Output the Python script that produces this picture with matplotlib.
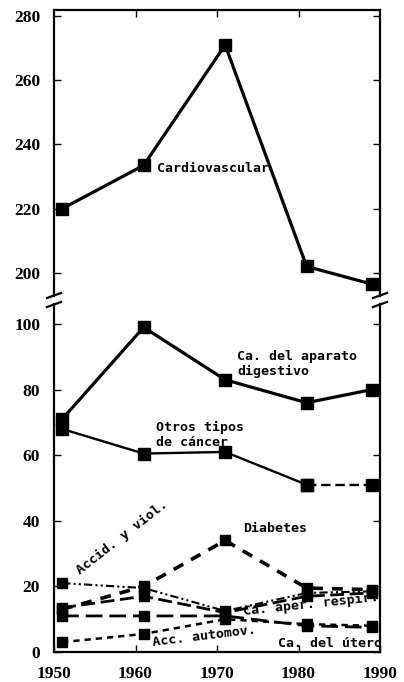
import matplotlib
matplotlib.use("Agg")
import matplotlib.pyplot as plt
from matplotlib.lines import Line2D

# ---------------- data ----------------
years = [1951, 1961, 1971, 1981, 1989]
cardiovascular = [220, 233.5, 271, 202, 196.5]
ca_digestivo = [71, 99, 83, 76, 80]
otros_cancer = [68, 60.5, 61, 51, 51]
accid_viol = [21, 19.5, 12.5, 18, 18.5]
diabetes = [13, 20, 34, 19.5, 19]
ca_respir = [13.5, 17, 12, 17, 18]
ca_utero = [11, 11, 11, 8, 7.5]
acc_automov = [3, 5.5, 10, 8.5, 8]

yticks_top = [200, 220, 240, 260, 280]
yticks_bot = [0, 20, 40, 60, 80, 100]
xticks = [1950, 1960, 1970, 1980, 1990]

W, H = 404, 682
fig = plt.figure(figsize=(W / 100, H / 100), dpi=100)

def fx(px):
    return px / W

def fy(py):
    return 1 - py / H

left, right = 54, 380
ax_top = fig.add_axes([fx(left), fy(296), (right - left) / W, (296 - 10) / H])
ax_bot = fig.add_axes([fx(left), fy(652), (right - left) / W, (652 - 304) / H])

tick_font = dict(family=["Liberation Serif", "DejaVu Serif"], weight="bold", size=12.5)
ann_font = dict(family=["DejaVu Sans Mono"], weight="bold", size=9.5)

mk = dict(marker="s", color="black", markerfacecolor="black", markeredgecolor="black")

# ---- top panel ----
ax_top.plot(years, cardiovascular, linestyle="-", lw=2.3, markersize=8, **mk)
ax_top.set_xlim(1950, 1990)
ax_top.set_ylim(192.8, 281.9)
ax_top.set_yticks(yticks_top)
ax_top.set_xticks([1960, 1970, 1980])
ax_top.spines["bottom"].set_visible(False)
ax_top.tick_params(axis="both", direction="in", length=5, width=1,
                   left=True, right=True, top=True, bottom=False,
                   labelbottom=False, labelleft=True, pad=10)
fp = matplotlib.font_manager.FontProperties(**tick_font)
for lab in ax_top.get_yticklabels():
    lab.set_fontproperties(fp)
ax_top.text(1962.6, 232.5, "Cardiovascular", ha="left", va="center", **ann_font)

# ---- bottom panel ----
ax_bot.plot(years, ca_digestivo, linestyle="-", lw=2.3, markersize=8, **mk)
ax_bot.plot(years[:4], otros_cancer[:4], linestyle="-", lw=1.7, markersize=8, **mk)
ax_bot.plot(years[3:], otros_cancer[3:], linestyle=(0, (4, 2)), lw=1.7, markersize=8, **mk)
ax_bot.plot(years, accid_viol, linestyle=(0, (4, 1.5, 1, 1.5, 1, 1.5)), lw=1.5, markersize=7.5, **mk)
ax_bot.plot(years, diabetes, linestyle=(0, (3, 2.5)), lw=2.6, markersize=7.5, **mk)
ax_bot.plot(years, ca_respir, linestyle=(0, (5, 2)), lw=2.0, markersize=7.5, **mk)
ax_bot.plot(years, ca_utero, linestyle=(0, (6, 2.5)), lw=2.0, markersize=7.5, **mk)
ax_bot.plot(years, acc_automov, linestyle=(0, (2.5, 2)), lw=1.8, markersize=7.5, **mk)

ax_bot.set_xlim(1950, 1990)
ax_bot.set_ylim(0, 106.1)
ax_bot.set_yticks(yticks_bot)
ax_bot.set_xticks(xticks)
ax_bot.set_xticklabels([str(x) for x in xticks])
ax_bot.spines["top"].set_visible(False)
ax_bot.tick_params(axis="both", direction="in", length=5, width=1,
                   left=True, right=True, top=False, bottom=True, pad=10)
for lab in ax_bot.get_yticklabels() + ax_bot.get_xticklabels():
    lab.set_fontproperties(fp)

for ax in (ax_top, ax_bot):
    for s in ax.spines.values():
        s.set_linewidth(1.6)

ax_bot.text(1972.5, 87.8, "Ca. del aparato\ndigestivo", ha="left", va="center",
            linespacing=1.15, **ann_font)
ax_bot.text(1962.5, 66.2, "Otros tipos\nde cáncer", ha="left", va="center",
            linespacing=1.15, **ann_font)
ax_bot.text(1958.3, 35, "Accid. y viol.", ha="center", va="center", rotation=38,
            rotation_mode="anchor", **ann_font)
ax_bot.text(1973.2, 37.8, "Diabetes", ha="left", va="center", **ann_font)
ax_bot.text(1973.2, 12.2, "Ca. aper. respir.", ha="left", va="center", rotation=6,
            rotation_mode="anchor", clip_on=True, **ann_font)
ax_bot.text(1962.1, 3.0, "Acc. automov.", ha="left", va="center", rotation=7,
            rotation_mode="anchor", **ann_font)
ax_bot.text(1977.5, 2.7, "Ca. del útero", ha="left", va="center", clip_on=True, **ann_font)

# ---- axis break marks ----
for xc in (left, right):
    for y0 in (298, 307):
        fig.add_artist(Line2D([fx(xc - 7), fx(xc + 7)], [fy(y0), fy(y0 - 5)],
                              color="black", lw=1.6, transform=fig.transFigure))

fig.savefig("out.png", dpi=100)
